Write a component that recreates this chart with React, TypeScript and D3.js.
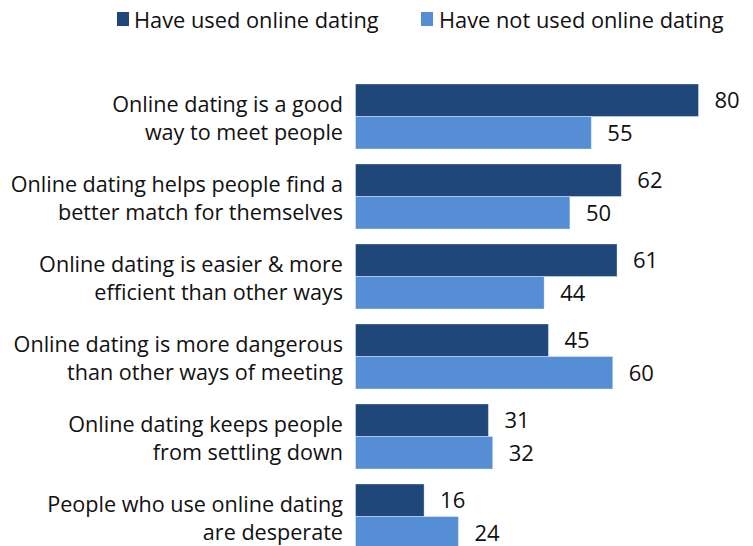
import React from "react";
import * as d3 from "d3";

const categories = [
  ["Online dating is a good", "way to meet people"],
  ["Online dating helps people find a", "better match for themselves"],
  ["Online dating is easier & more", "efficient than other ways"],
  ["Online dating is more dangerous", "than other ways of meeting"],
  ["Online dating keeps people", "from settling down"],
  ["People who use online dating", "are desperate"],
];
const usedValues = [80, 62, 61, 45, 31, 16];
const notUsedValues = [55, 50, 44, 60, 32, 24];
const seriesNames = ["Have used online dating", "Have not used online dating"];
const colors = ["#1f477a", "#558ed5"];

const W = 753;
const H = 546;
const FONT = "'Open Sans', 'Liberation Sans', Arial, sans-serif";

export default function App() {
  const ids = categories.map((_, i) => String(i));
  const y = d3.scaleBand<string>().domain(ids).range([84, 549]).paddingInner(0.1875).paddingOuter(0);
  const sub = d3.scaleBand<string>().domain(["0", "1"]).range([0, y.bandwidth()]).padding(0);
  const x = d3.scaleLinear().domain([0, 80]).range([355.5, 698.5]);
  const series = [usedValues, notUsedValues];

  return (
    <div style={{ position: "absolute", left: 0, top: 0 }}>
      <svg width={W} height={H} style={{ display: "block", background: "#fff" }} fontFamily={FONT}>
        {/* legend */}
        <g>
          <rect x={117} y={12} width={12} height={14} fill={colors[0]} />
          <text x={134} y={28} fontSize={21.8} fill="#111">{seriesNames[0]}</text>
          <rect x={421} y={12} width={12} height={14} fill={colors[1]} />
          <text x={439} y={28} fontSize={21.8} fill="#111">{seriesNames[1]}</text>
        </g>
        {categories.map((lines, i) => {
          const y0 = y(String(i))!;
          const c = y0 + y.bandwidth() / 2;
          return (
            <g key={i}>
              <text x={343} y={c - 4.5} textAnchor="end" fontSize={21.6} fill="#111">{lines[0]}</text>
              <text x={343} y={c + 23.5} textAnchor="end" fontSize={21.6} fill="#111">{lines[1]}</text>
              {series.map((vals, s) => {
                const by = y0 + sub(String(s))!;
                const bh = sub.bandwidth();
                return (
                  <g key={s}>
                    <rect
                      x={x(0)}
                      y={by}
                      width={x(vals[i]) - x(0)}
                      height={bh}
                      fill={colors[s]}
                      stroke="rgba(255,255,255,0.35)"
                      strokeWidth={1}
                    />
                    <text x={x(vals[i]) + 16} y={by + bh / 2 + 8} fontSize={22} fill="#111">
                      {vals[i]}
                    </text>
                  </g>
                );
              })}
            </g>
          );
        })}
      </svg>
    </div>
  );
}
